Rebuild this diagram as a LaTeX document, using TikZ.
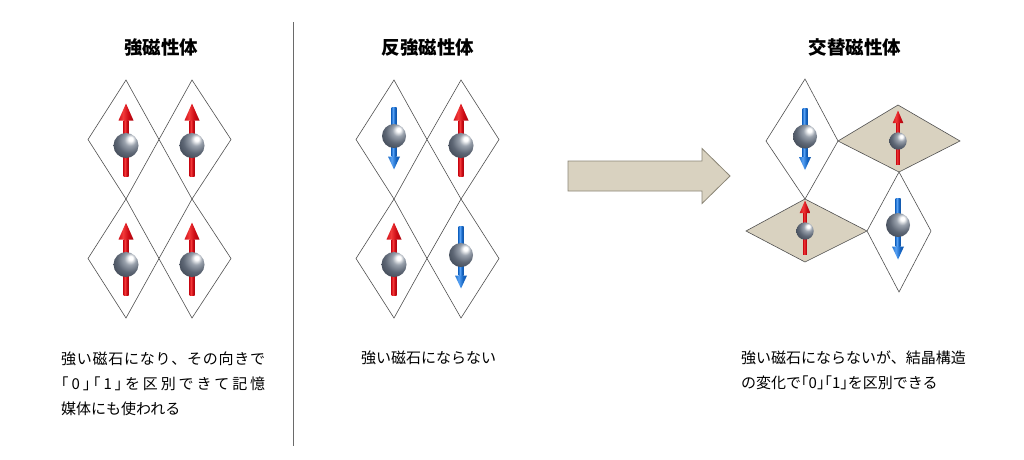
\documentclass[tikz,border=0pt]{standalone}
\usepackage{fontspec}
\setmainfont{Noto Sans CJK JP}
\definecolor{tanfill}{HTML}{D9D2C0}
\definecolor{tanedge}{HTML}{8C8677}
\definecolor{edgegray}{HTML}{505050}
\definecolor{divgray}{HTML}{6A6A6A}
\definecolor{rdk}{HTML}{780008}
\definecolor{rmd}{HTML}{CC0A14}
\definecolor{rlt}{HTML}{F23A3A}
\definecolor{bdk}{HTML}{0A3A7A}
\definecolor{bmd}{HTML}{1666C4}
\definecolor{blt}{HTML}{58A2F4}
\definecolor{sb1}{HTML}{9AA2AD}
\definecolor{sb2}{HTML}{5E6775}
\definecolor{sb3}{HTML}{323A46}
\definecolor{sb4}{HTML}{222831}
\pgfdeclarehorizontalshading{redcyl}{100bp}{color(0bp)=(rdk); color(22bp)=(rmd); color(40bp)=(rlt); color(58bp)=(rmd); color(100bp)=(rdk)}
\pgfdeclarehorizontalshading{bluecyl}{100bp}{color(0bp)=(bdk); color(22bp)=(bmd); color(40bp)=(blt); color(58bp)=(bmd); color(100bp)=(bdk)}
\pgfdeclareradialshading{steelball}{\pgfpoint{10bp}{14bp}}{color(0bp)=(white); color(4bp)=(white); color(12bp)=(sb1); color(24bp)=(sb2); color(42bp)=(sb3); color(68bp)=(sb4)}
% arrow: x, tip y, head base y, tail y, head half width, shaft half width, shading
\newcommand\spinarr[7]{%
  \shade[shading=#7] ({#1-#6},#3) rectangle ({#1+#6},#4);
  \shade[shading=#7] (#1,#2) -- ({#1-#5},#3) -- ({#1+#5},#3) -- cycle;}
\newcommand\spinball[3]{\shade[shading=steelball] (#1,#2) circle[radius=#3];}
\newcommand\bigup[2]{\spinarr{#1}{#2-36}{#2-19}{#2+37}{7.5}{2.5}{redcyl}\spinball{#1}{#2+6}{12.5}}
\newcommand\bigdown[2]{\spinarr{#1}{#2+30}{#2+17}{#2-32}{6}{2.5}{bluecyl}\spinball{#1}{#2-3.5}{12}}
\newcommand\smallup[2]{\spinarr{#1}{#2-30.5}{#2-18}{#2+23}{5.3}{1.8}{redcyl}\spinball{#1}{#2}{8.7}}
\tikzset{
  cell/.style={draw=edgegray, line width=0.6pt, fill=white},
  tancell/.style={draw=edgegray, line width=0.6pt, fill=tanfill},
  title/.style={font=\bfseries\fontsize{18.5}{21}\selectfont, inner sep=0},
  body/.style={font=\fontsize{15}{18}\selectfont, anchor=west, inner sep=0},
}
\begin{document}
\begin{tikzpicture}[x=1pt,y=-1pt]
\fill[white] (0,0) rectangle (1024,459);
\useasboundingbox (0,0) rectangle (1024,459);
% divider
\draw[divgray, line width=0.9pt] (293,22) -- (293,446);
% titles
\node[title] (t1) at (161,47) {強磁性体};
\node[title] (t2) at (428,47) {反強磁性体};
\node[title] (t3) at (855,47) {交替磁性体};
% ferromagnet cells
\foreach \m in {139.5,258.5}{
  \draw[cell] (126,\m-59.5) -- (159,\m) -- (126,\m+59.5) -- (88,\m) -- cycle;
  \draw[cell] (192,\m-59.5) -- (231,\m) -- (192,\m+59.5) -- (159,\m) -- cycle;
}
\bigup{126}{139.5}\bigup{192}{139.5}
\bigup{126}{258.5}\bigup{192}{258.5}
% antiferromagnet cells
\foreach \m in {139.5,258.5}{
  \draw[cell] (394,\m-59.5) -- (427,\m) -- (394,\m+59.5) -- (356,\m) -- cycle;
  \draw[cell] (461,\m-59.5) -- (499,\m) -- (461,\m+59.5) -- (427,\m) -- cycle;
}
\bigdown{394}{139.5}\bigup{461}{139.5}
\bigup{394}{258.5}\bigdown{461}{258.5}
% big arrow
\draw[fill=tanfill, draw=tanedge, line width=0.8pt]
  (568,161) -- (702,161) -- (702,148.5) -- (730,176) -- (702,203.5) -- (702,191) -- (568,191) -- cycle;
% altermagnet cells
\draw[cell] (805,79) -- (838,141) -- (805,199) -- (766,141) -- cycle;
\draw[tancell] (838,141) -- (898,105) -- (960,141) -- (899,172) -- cycle;
\draw[tancell] (746,231) -- (805,199) -- (867,231) -- (805,262) -- cycle;
\draw[cell] (899,172) -- (931,231) -- (899,292) -- (867,231) -- cycle;
\spinarr{805}{170}{157}{108}{6}{2.5}{bluecyl}\spinball{805}{136.5}{12}
\smallup{898}{141}
\smallup{805}{231}
\spinarr{898}{259.5}{246.5}{198.5}{6}{2.5}{bluecyl}\spinball{898}{225}{12}
% texts
\node[body] (a1) at (61,359) {\hbox to 204pt{強\hfil い\hfil 磁\hfil 石\hfil に\hfil な\hfil り\hfil 、\hfil そ\hfil の\hfil 向\hfil き\hfil で}};
\node[body] (a2) at (61,384) {\hbox to 204pt{｢\hfil 0\hfil ｣\hfil ｢\hfil 1\hfil ｣\hfil を\hfil 区\hfil 別\hfil で\hfil き\hfil て\hfil 記\hfil 憶}};
\node[body] (a3) at (61,409) {媒体にも使われる};
\node[body] (b1) at (361,358) {強い磁石にならない};
\node[body] (c1) at (741,358) {強い磁石にならないが、結晶構造};
\node[body] (c2) at (741,383) {の変化で｢0｣｢1｣を区別できる};
\end{tikzpicture}
\end{document}
